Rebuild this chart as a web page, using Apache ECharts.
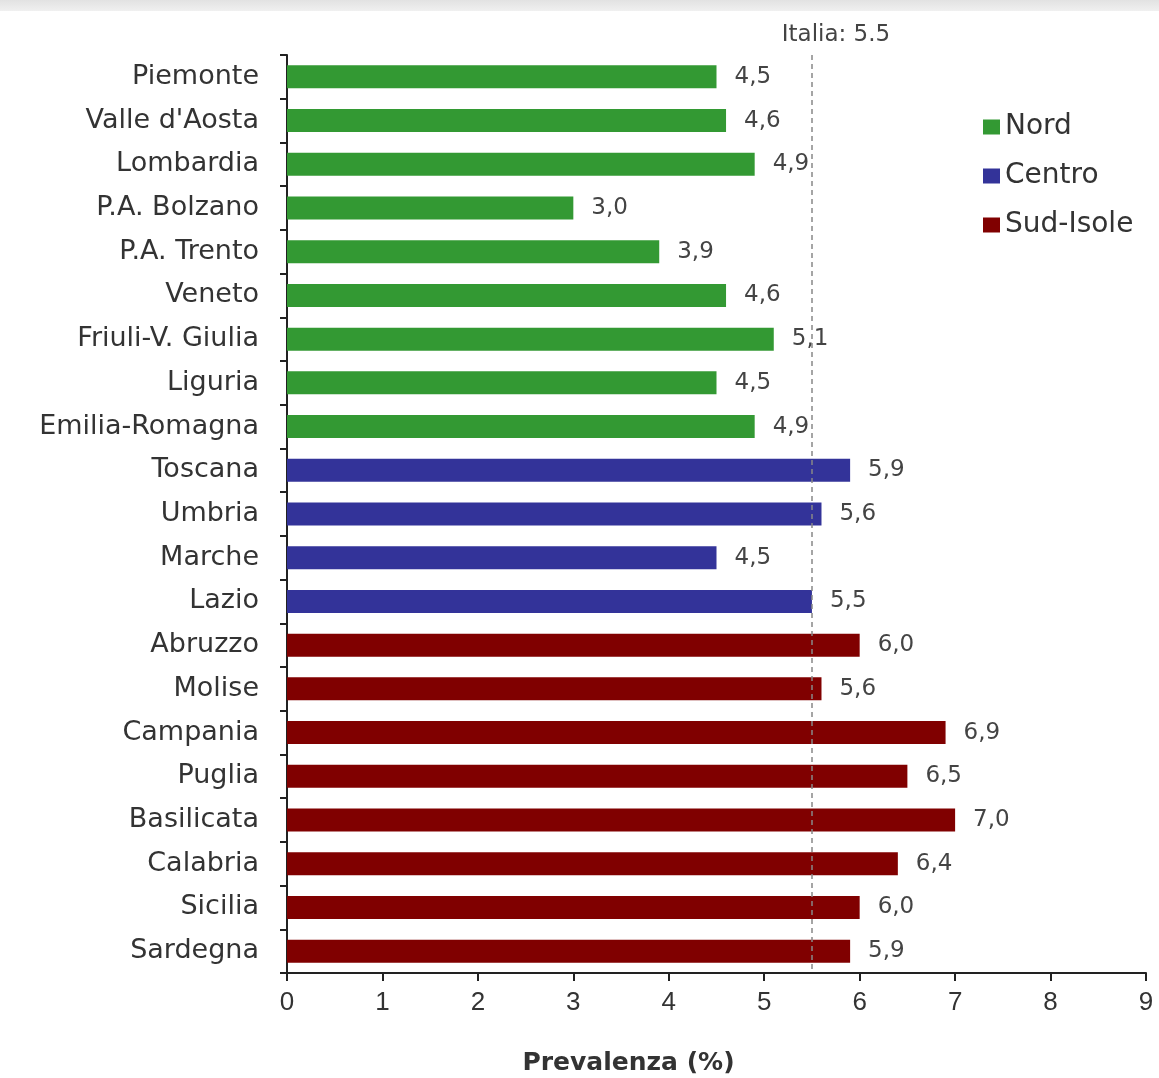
<!DOCTYPE html>
<html>
<head>
<meta charset="utf-8">
<script src="https://cdn.jsdelivr.net/npm/echarts@6/dist/echarts.min.js"></script>
<style>
  html, body { margin: 0; padding: 0; background: #fff; }
  #main { width: 1159px; height: 1078px; }
</style>
</head>
<body>
<div id="main"></div>
<script>
var regioni = ["Piemonte", "Valle d'Aosta", "Lombardia", "P.A. Bolzano", "P.A. Trento", "Veneto",
  "Friuli-V. Giulia", "Liguria", "Emilia-Romagna", "Toscana", "Umbria", "Marche", "Lazio",
  "Abruzzo", "Molise", "Campania", "Puglia", "Basilicata", "Calabria", "Sicilia", "Sardegna"];
var prevalenza = [4.5, 4.6, 4.9, 3.0, 3.9, 4.6, 5.1, 4.5, 4.9, 5.9, 5.6, 4.5, 5.5,
  6.0, 5.6, 6.9, 6.5, 7.0, 6.4, 6.0, 5.9];
var area = ["Nord", "Nord", "Nord", "Nord", "Nord", "Nord", "Nord", "Nord", "Nord",
  "Centro", "Centro", "Centro", "Centro",
  "Sud-Isole", "Sud-Isole", "Sud-Isole", "Sud-Isole", "Sud-Isole", "Sud-Isole", "Sud-Isole", "Sud-Isole"];
var gruppi = ["Nord", "Centro", "Sud-Isole"];
var colori = ["#339933", "#333399", "#800000"];
var italia = 5.5;
var xTicks = [0, 1, 2, 3, 4, 5, 6, 7, 8, 9];

var font = "DejaVu Sans";
var myChart = echarts.init(document.getElementById('main'));

var series = gruppi.map(function (g, gi) {
  var s = {
    name: g,
    type: 'bar',
    stack: 'tot',
    barWidth: 23,
    itemStyle: { color: colori[gi] },
    label: {
      show: true,
      position: 'right',
      distance: 18,
      color: '#444',
      fontFamily: font,
      fontSize: 23,
      formatter: function (p) {
        return p.value.toFixed(1).replace('.', ',');
      }
    },
    data: prevalenza.map(function (v, i) { return area[i] == g ? v : '-'; })
  };
  return s;
});
// linea media nazionale (asse y invertito: 'start' = in alto)
series[2].markLine = {
  silent: true,
  symbol: 'none',
  z: 10,
  lineStyle: { color: '#888', type: [5, 4], width: 1.5 },
  label: {
    show: true,
    position: 'start',
    formatter: 'Italia: ' + italia,
    color: '#444',
    fontFamily: font,
    fontSize: 23,
    distance: 8,
    offset: [24, 0]
  },
  data: [{ xAxis: italia }]
};

var option = {
  animation: false,
  backgroundColor: '#fff',
  graphic: [{
    type: 'rect',
    left: 0, top: 0,
    shape: { width: 1159, height: 11 },
    style: {
      fill: new echarts.graphic.LinearGradient(0, 0, 0, 1, [
        { offset: 0, color: '#e2e2e2' }, { offset: 1, color: '#f0f0f0' }
      ])
    }
  }],
  legend: {
    data: gruppi,
    orient: 'vertical',
    left: 978,
    top: 108,
    icon: 'rect',
    itemWidth: 17,
    itemHeight: 15,
    itemGap: 21,
    textStyle: { fontFamily: font, fontSize: 28, color: '#333' }
  },
  grid: { left: 287, right: 13, top: 55, bottom: 105, outerBoundsMode: 'none', containLabel: false },
  xAxis: {
    type: 'value',
    min: 0,
    max: 9,
    interval: 1,
    name: 'Prevalenza (%)',
    nameLocation: 'middle',
    nameGap: 78,
    nameTextStyle: {
      fontFamily: font, fontSize: 25, fontWeight: 'bold', color: '#333',
      padding: [0, 176, 0, 0]
    },
    axisLine: { show: true, lineStyle: { color: '#222', width: 2 } },
    axisTick: { show: true, length: 8, lineStyle: { color: '#222', width: 2 } },
    axisLabel: {
      color: '#333', fontFamily: 'Liberation Sans Narrow, Liberation Sans', fontSize: 26, margin: 17,
      formatter: function (v) { return xTicks.indexOf(v) >= 0 ? String(v) : ''; }
    },
    splitLine: { show: false }
  },
  yAxis: {
    type: 'category',
    inverse: true,
    data: regioni,
    axisLine: { show: true, lineStyle: { color: '#222', width: 2 } },
    axisTick: { show: true, length: 7, lineStyle: { color: '#222', width: 2 } },
    axisLabel: { color: '#333', fontFamily: font, fontSize: 27, margin: 28 }
  },
  series: series
};
myChart.setOption(option);
</script>
</body>
</html>
